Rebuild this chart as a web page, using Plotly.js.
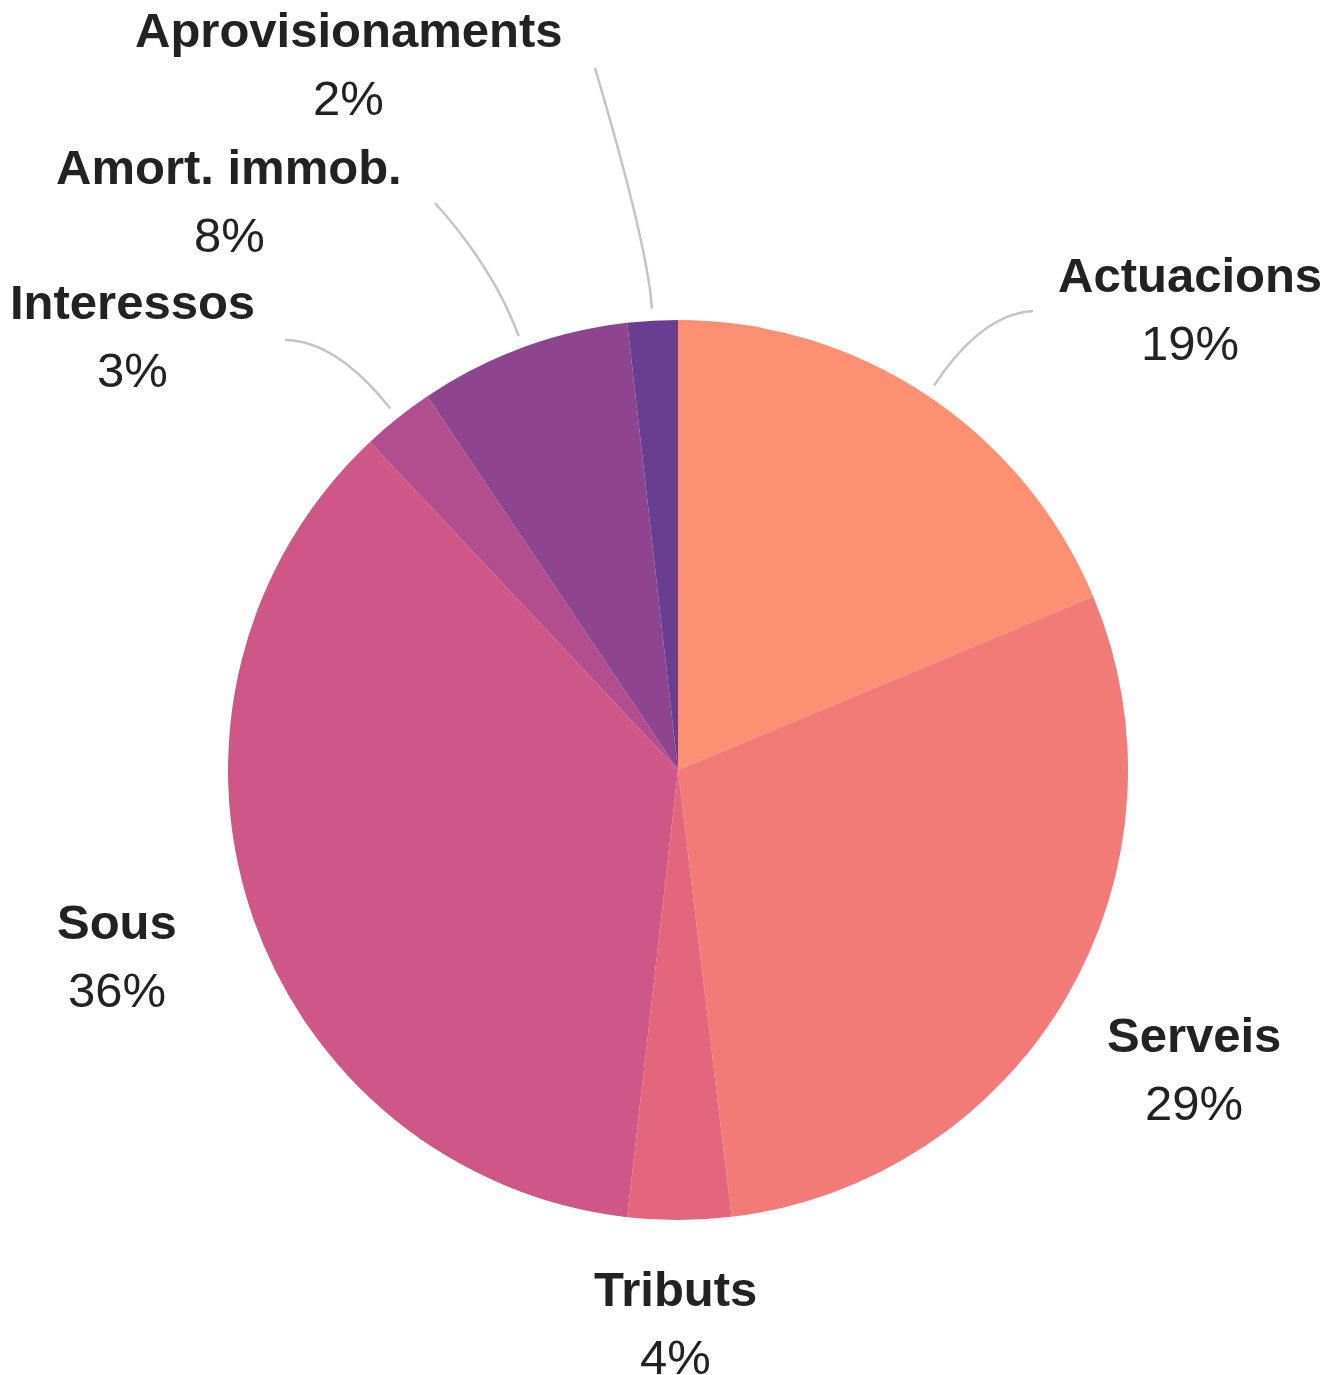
<!DOCTYPE html>
<html>
<head>
<meta charset="utf-8">
<script src="https://cdn.plot.ly/plotly-3.0.1.min.js"></script>
<style>html,body{margin:0;padding:0;background:#fff;}#chart{width:1327px;height:1375px;}</style>
</head>
<body>
<div id="chart"></div>
<script>
// ---- data ----
const categories = ['Actuacions', 'Serveis', 'Tributs', 'Sous', 'Interessos', 'Amort. immob.', 'Aprovisionaments'];
const shares = [18.7, 29.4, 3.7, 36.2, 2.6, 7.6, 1.8];

// ---- styles ----
const sliceColors = ['#fd9073', '#f27b77', '#e3667c', '#cf5788', '#b24d8e', '#8f448f', '#693e91'];
const W = 1327, H = 1375;
const CX = 678, CY = 770, R = 450;          // pie placement (pixels)
const FONT = '"Liberation Sans", Arial, sans-serif';
const FS = 49, LINE_GAP = 68, CAP_MID = 18;

// label placement: x centre, name baseline; optional leader line end + control distance
const labelLayout = {
  'Actuacions':       {x: 1190, y: 293, end: [1033, 311], t: 86},
  'Serveis':          {x: 1194, y: 1053},
  'Tributs':          {x: 675,  y: 1307},
  'Sous':             {x: 117,  y: 940},
  'Interessos':       {x: 132,  y: 320, end: [285, 340], t: 87},
  'Amort. immob.':    {x: 229,  y: 185, end: [435, 203], t: 72},
  'Aprovisionaments': {x: 348,  y: 48,  end: [595, 68],  t: 60}
};

const px = x => x / W;
const py = y => 1 - y / H;

const total = shares.reduce((a, b) => a + b, 0);
const annotations = [];
const shapes = [];
let cum = 0;
categories.forEach((c, i) => {
  const frac = shares[i] / total;
  const mid = (cum + frac / 2) * 2 * Math.PI;
  cum += frac;
  const L = labelLayout[c];
  const pct = Math.round(frac * 100) + '%';
  annotations.push({
    xref: 'paper', yref: 'paper', x: px(L.x), y: py(L.y - CAP_MID),
    xanchor: 'center', yanchor: 'middle', showarrow: false,
    text: c, font: {family: FONT, size: FS, color: '#222222', weight: 'bold'}
  });
  annotations.push({
    xref: 'paper', yref: 'paper', x: px(L.x), y: py(L.y + LINE_GAP - CAP_MID),
    xanchor: 'center', yanchor: 'middle', showarrow: false,
    text: pct, font: {family: FONT, size: FS, color: '#222222'}
  });
  if (L.end) {
    const dx = Math.sin(mid), dy = -Math.cos(mid);
    const r0 = R + 12;
    const x0 = CX + dx * r0, y0 = CY + dy * r0;
    const x1 = x0 + dx * L.t, y1 = y0 + dy * L.t;
    const [x2, y2] = L.end;
    shapes.push({
      type: 'path', xref: 'paper', yref: 'paper',
      path: `M ${px(x0)} ${py(y0)} Q ${px(x1)} ${py(y1)} ${px(x2)} ${py(y2)}`,
      line: {color: '#c4c4c4', width: 2.5}
    });
  }
});

const trace = {
  type: 'pie',
  labels: categories,
  values: shares,
  sort: false,
  direction: 'clockwise',
  rotation: 0,
  textinfo: 'none',
  hoverinfo: 'none',
  marker: {colors: sliceColors, line: {width: 0}},
  domain: {x: [px(CX - R), px(CX + R)], y: [py(CY + R), py(CY - R)]},
  showlegend: false
};

Plotly.newPlot('chart', [trace], {
  width: W, height: H,
  margin: {l: 0, r: 0, t: 0, b: 0},
  paper_bgcolor: '#ffffff',
  showlegend: false,
  annotations: annotations,
  shapes: shapes
}, {displayModeBar: false, staticPlot: true});
</script>
</body>
</html>
